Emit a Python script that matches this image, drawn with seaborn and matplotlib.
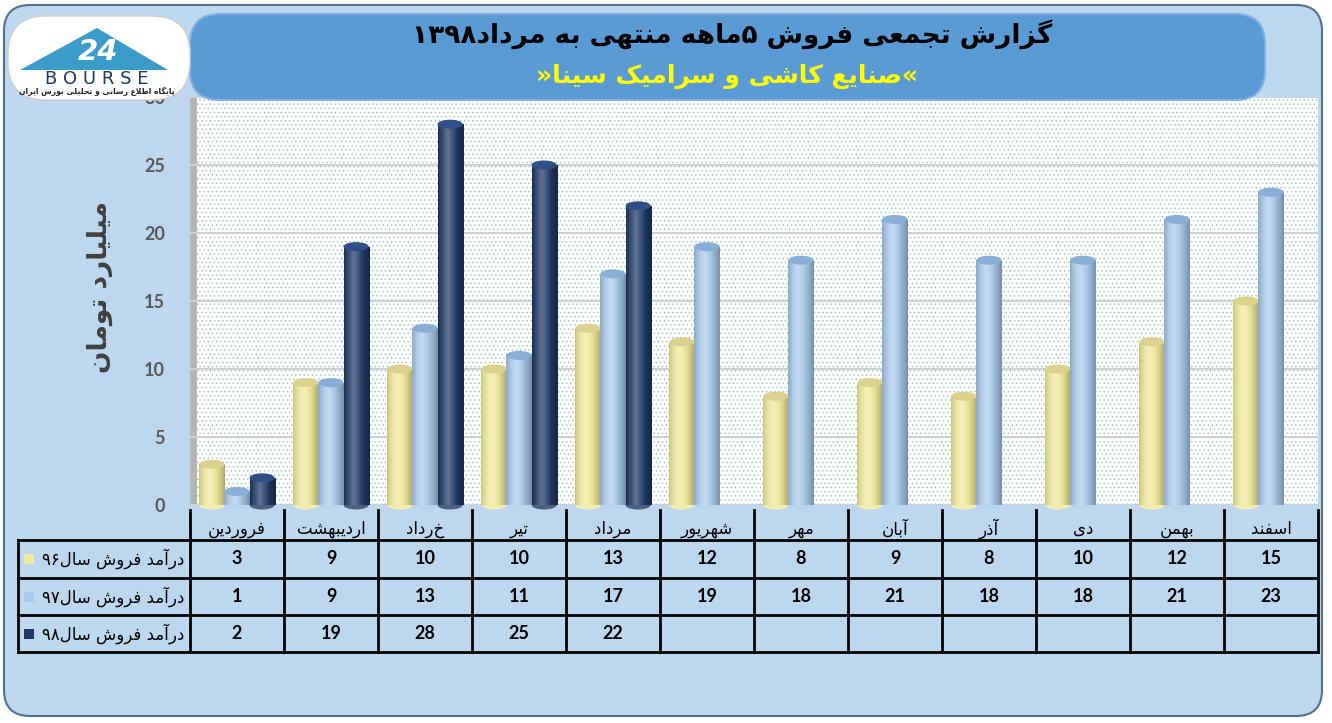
import re
import numpy as np
import pandas as pd
import seaborn as sns
import matplotlib.pyplot as plt
import matplotlib.colors as mcolors
from matplotlib.patches import FancyBboxPatch, Rectangle, Ellipse, Polygon

# chart data
months = ['فروردین', 'اردیبهشت', 'خرداد', 'تیر', 'مرداد', 'شهریور',
          'مهر', 'آبان', 'آذر', 'دی', 'بهمن', 'اسفند']
sales_96 = [3, 9, 10, 10, 13, 12, 8, 9, 8, 10, 12, 15]
sales_97 = [1, 9, 13, 11, 17, 19, 18, 21, 18, 18, 21, 23]
sales_98 = [2, 19, 28, 25, 22, None, None, None, None, None, None, None]
series_names = ['درآمد فروش سال۹۶', 'درآمد فروش سال۹۷', 'درآمد فروش سال۹۸']
bar_colors = ['#F2EB9B', '#A9CAEC', '#1F3864']
cap_colors = ['#D9D18C', '#89AFD8', '#2F4F86']
y_ticks = [0, 5, 10, 15, 20, 25, 30]
title = 'گزارش تجمعی فروش ۵ماهه منتهی به مرداد۱۳۹۸'
subtitle = '«صنایع کاشی و سرامیک سینا»'
y_label = 'میلیارد تومان'
logo_name = 'B O U R S E'
logo_caption = 'پایگاه اطلاع رسانی و تحلیلی بورس ایران'

# --- simple persian shaping (matplotlib has no arabic text layout) ---
FORMS = {}
for ch, start, n in [('آ', 0xFE81, 2), ('ا', 0xFE8D, 2), ('ب', 0xFE8F, 4), ('ت', 0xFE95, 4),
                     ('ج', 0xFE9D, 4), ('ح', 0xFEA1, 4), ('د', 0xFEA9, 2), ('ذ', 0xFEAB, 2),
                     ('ر', 0xFEAD, 2), ('ز', 0xFEAF, 2), ('س', 0xFEB1, 4), ('ش', 0xFEB5, 4),
                     ('ص', 0xFEB9, 4), ('ط', 0xFEC1, 4), ('ع', 0xFEC9, 4), ('ف', 0xFED1, 4),
                     ('ل', 0xFEDD, 4), ('م', 0xFEE1, 4), ('ن', 0xFEE5, 4), ('ه', 0xFEE9, 4),
                     ('و', 0xFEED, 2), ('پ', 0xFB56, 4), ('ک', 0xFB8E, 4), ('گ', 0xFB92, 4),
                     ('ی', 0xFBFC, 4)]:
    FORMS[ch] = [chr(start + k) for k in range(n)]


def fa(text):
    out = []
    i = 0
    while i < len(text):
        ch = text[i]
        prev = text[i - 1] if i > 0 else ''
        joins_prev = len(FORMS.get(prev, [])) == 4
        if ch == 'ل' and i + 1 < len(text) and text[i + 1] in 'اآ':
            base = 0xFEFB if text[i + 1] == 'ا' else 0xFEF5
            out.append(chr(base + (1 if joins_prev else 0)))
            i += 2
            continue
        if ch in FORMS:
            f = FORMS[ch]
            nxt = text[i + 1] if i + 1 < len(text) else ''
            joins_next = len(f) == 4 and nxt in FORMS
            if joins_prev:
                idx = 3 if joins_next else 1
            else:
                idx = 2 if joins_next else 0
            out.append(f[idx])
        else:
            out.append(ch)
        i += 1
    vis = ''.join(out)[::-1]
    return re.sub(r'[0-9۰-۹]+', lambda m: m.group()[::-1], vis)


def cyl_colors(c, n=64):
    base = np.array(mcolors.to_rgb(c))
    t = np.linspace(0, 1, n)
    hi = np.clip(1 - np.abs(t - 0.38) / 0.38, 0, 1) * 0.3
    dk = (np.abs(t - 0.42) / 0.58) ** 2 * 0.3
    rgb = base * (1 - hi[:, None]) + hi[:, None]
    rgb = rgb * (1 - dk[:, None])
    return rgb[None, :, :]


rows = []
for name, vals in zip(series_names, [sales_96, sales_97, sales_98]):
    for m, v in zip(months, vals):
        if v is not None:
            rows.append({'month': m, 'series': name, 'value': v})
df = pd.DataFrame(rows)

plt.rcParams['font.family'] = ['DejaVu Sans']
plt.rcParams['hatch.linewidth'] = 0.5

W, H = 1332, 723
fig = plt.figure(figsize=(W / 100, H / 100), dpi=100, facecolor='white')

# background layer
bg = fig.add_axes([0, 0, 1, 1], zorder=0)
bg.set_xlim(0, W)
bg.set_ylim(H, 0)
bg.axis('off')
bg.add_patch(FancyBboxPatch((4, 5), 1318, 711, boxstyle='round,pad=0,rounding_size=26',
                            fc='#BDD7EE', ec='#52708F', lw=1.5))
bg.text(100, 287, fa(y_label), rotation=90, ha='center', va='center',
        fontsize=19, fontweight='bold', color='#404040')

# main chart
ax = fig.add_axes([190 / W, 1 - 505 / H, 1128 / W, 408 / H], zorder=2)
ax.set_facecolor('white')
sns.barplot(data=df, x='month', y='value', hue='series', order=months,
            hue_order=series_names, palette=dict(zip(series_names, bar_colors)),
            saturation=1, width=0.8, errorbar=None, legend=False, ax=ax, zorder=3)
bars = list(ax.patches)

ax.add_patch(Rectangle((0, 0), 1, 1, transform=ax.transAxes, fill=False, hatch='....',
                       edgecolor='#94C4B6', lw=0, zorder=0.2))
ax.add_patch(Rectangle((0, 0), 7 / 1128, 1, transform=ax.transAxes, fc='#B5B5B5',
                       ec='none', zorder=0.3))

cap_h = 30 / 408 * 9
for p in bars:
    x0, w, h = p.get_x(), p.get_width(), p.get_height()
    fc = mcolors.to_hex(p.get_facecolor()[:3])
    k = [mcolors.to_hex(c) for c in bar_colors].index(fc)
    im = ax.imshow(cyl_colors(bar_colors[k]), extent=(x0, x0 + w, 0, h), aspect='auto',
                   interpolation='bilinear', zorder=3.1)
    im.set_clip_path(p)
    ax.add_patch(Ellipse((x0 + w / 2, h), w, cap_h, fc=cap_colors[k], ec='none', zorder=3.2))
    ax.add_patch(Ellipse((x0 + w / 2, 0), w, cap_h, fc=cyl_colors(bar_colors[k], 3)[0, 1],
                         ec='none', zorder=3.0, clip_on=False))

ax.set_xlim(-0.5, len(months) - 0.5)
ax.set_ylim(0, 30)
ax.set_yticks(y_ticks)
ax.set_xticks([])
ax.set_xlabel('')
ax.set_ylabel('')
ax.yaxis.grid(True, color='#D0D0D0', lw=1.5)
ax.set_axisbelow(True)
ax.tick_params(axis='y', length=0, pad=18, labelsize=13, labelcolor='#595959')
for lab in ax.get_yticklabels():
    lab.set_fontweight('bold')
    lab.set_family('Lato')
for s in ax.spines.values():
    s.set_visible(False)

# data table under the chart
tab = fig.add_axes([18 / W, 1 - 652 / H, 1300 / W, 147 / H], zorder=3)
left = -0.5 - 172 / 94
right = len(months) - 0.5
tab.set_xlim(left, right)
tab.set_ylim(147, 0)
tab.axis('off')
row_edges = [35, 73, 110, 147]
for y in row_edges:
    tab.plot([left, right], [y, y], color='black', lw=2, clip_on=False, solid_capstyle='projecting')
tab.plot([left, left], [35, 147], color='black', lw=2, clip_on=False)
for i in range(len(months) + 1):
    tab.plot([i - 0.5, i - 0.5], [5, 147], color='black', lw=2, clip_on=False)
for i, m in enumerate(months):
    tab.text(i, 24, fa(m), ha='center', va='center', fontsize=12, color='black')
for r, (name, vals) in enumerate(zip(series_names, [sales_96, sales_97, sales_98])):
    yc = (row_edges[r] + row_edges[r + 1]) / 2
    for i, v in enumerate(vals):
        if v is not None:
            tab.text(i, yc, str(v), ha='center', va='center', fontsize=13,
                     fontweight='bold', family='Lato', color='black')
    tab.text(-0.5 - 6 / 94, yc, fa(name), ha='right', va='center', fontsize=12, color='black')
    tab.add_patch(Rectangle((left + 6 / 94, yc - 5), 10 / 94, 10, fc=bar_colors[r], ec='none'))

# title box and logo on top
fr = fig.add_axes([0, 0, 1, 1], zorder=10)
fr.set_xlim(0, W)
fr.set_ylim(H, 0)
fr.axis('off')
fr.patch.set_alpha(0)
fr.add_patch(FancyBboxPatch((190, 14), 1075, 86, boxstyle='round,pad=0,rounding_size=30',
                            fc='#5B9BD5', ec='#7FB1E0', lw=1.5))
fr.text(732, 34, fa(title), ha='center', va='center', fontsize=19, fontweight='bold', color='black')
fr.text(727, 76, fa(subtitle), ha='center', va='center', fontsize=18, fontweight='bold', color='#FFFF00')

fr.add_patch(FancyBboxPatch((8, 16), 182, 84, boxstyle='round,pad=0,rounding_size=38',
                            fc='white', ec='#D0D0D0', lw=1))
fr.add_patch(Polygon([(20, 70), (97, 28), (168, 70)], closed=True, fc='#3C9CC9', ec='none'))
fr.text(98, 52, '24', ha='center', va='center', fontsize=21, fontweight='bold',
        style='italic', color='white')
fr.text(97, 79, logo_name, ha='center', va='center', fontsize=13, color='#1F3A60')
fr.text(97, 91, fa(logo_caption), ha='center', va='center', fontsize=5.5,
        fontweight='bold', color='#222222')

fig.savefig('out.png', dpi=100)
